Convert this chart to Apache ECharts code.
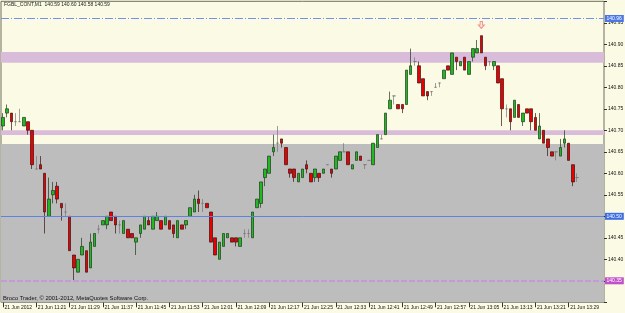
<!DOCTYPE html>
<html><head><meta charset="utf-8">
<script src="https://cdn.jsdelivr.net/npm/echarts@6.0.0/dist/echarts.min.js"></script>
<style>html,body{margin:0;padding:0;background:#fbfbe5;}#c{width:625px;height:313px;}</style>
</head><body><div id="c"></div>
<script>
// ---- data ----
const symbolName = 'FGBL_CONT,M1';
const startTime = '11:13';
const slotCount = 145; // includes chart shift slots on the right
const xTickLabels = ['21 Jun 2012','21 Jun 11:21','21 Jun 11:29','21 Jun 11:37','21 Jun 11:45','21 Jun 11:53','21 Jun 12:01','21 Jun 12:09','21 Jun 12:17','21 Jun 12:25','21 Jun 12:33','21 Jun 12:41','21 Jun 12:49','21 Jun 12:57','21 Jun 13:05','21 Jun 13:13','21 Jun 13:21','21 Jun 13:29'];
const opens = [140.71,140.74,140.74,140.72,140.72,140.71,140.72,140.70,140.61,140.62,
140.60,140.50,140.55,140.57,140.53,140.51,140.50,140.41,140.37,140.41,
140.42,140.38,140.43,140.47,140.48,140.48,140.51,140.50,140.48,140.46,
140.47,140.46,140.44,140.46,140.47,140.49,140.47,140.49,140.49,140.48,
140.49,140.48,140.45,140.48,140.48,140.50,140.51,140.54,140.53,140.53,
140.51,140.45,140.40,140.43,140.45,140.45,140.45,140.43,140.46,140.46,
140.45,140.52,140.53,140.59,140.60,140.65,140.67,140.68,140.66,140.61,
140.61,140.58,140.59,140.62,140.60,140.59,140.60,140.60,140.62,140.61,
140.61,140.63,140.65,140.65,140.61,140.63,140.64,140.62,140.63,140.62,
140.66,140.68,140.69,140.75,140.78,140.76,140.76,140.76,140.83,140.86,
140.85,140.82,140.79,140.79,140.80,140.81,140.82,140.85,140.83,140.87,
140.85,140.87,140.83,140.87,140.88,140.92,140.87,140.86,140.85,140.85,
140.82,140.75,140.75,140.73,140.76,140.72,140.75,140.75,140.73,140.68,
140.70,140.68,140.65,140.65,140.64,140.67,140.67,140.62,140.59];
const highs = [140.74,140.76,140.74,140.74,140.75,140.73,140.72,140.70,140.64,140.64,
140.60,140.59,140.58,140.58,140.53,140.53,140.50,140.41,140.40,140.45,
140.42,140.46,140.46,140.48,140.49,140.50,140.51,140.50,140.49,140.49,
140.47,140.46,140.45,140.48,140.50,140.50,140.50,140.51,140.49,140.50,
140.49,140.48,140.49,140.48,140.49,140.52,140.55,140.56,140.54,140.53,
140.51,140.45,140.44,140.46,140.46,140.45,140.45,140.45,140.47,140.47,
140.51,140.54,140.58,140.61,140.64,140.69,140.71,140.68,140.66,140.61,
140.61,140.60,140.61,140.63,140.60,140.61,140.60,140.61,140.62,140.61,
140.64,140.65,140.67,140.65,140.62,140.65,140.64,140.62,140.63,140.67,
140.69,140.69,140.74,140.79,140.78,140.76,140.76,140.84,140.89,140.87,
140.86,140.82,140.79,140.79,140.81,140.81,140.84,140.85,140.88,140.87,
140.86,140.87,140.86,140.89,140.91,140.92,140.87,140.86,140.86,140.85,
140.82,140.76,140.75,140.77,140.76,140.74,140.75,140.75,140.74,140.74,
140.70,140.68,140.65,140.65,140.68,140.70,140.67,140.62,140.60];
const lows = [140.70,140.73,140.70,140.71,140.72,140.71,140.69,140.61,140.61,140.61,
140.46,140.50,140.53,140.53,140.49,140.50,140.42,140.35,140.37,140.41,
140.37,140.38,140.43,140.46,140.48,140.47,140.49,140.46,140.46,140.46,
140.45,140.45,140.41,140.45,140.47,140.48,140.47,140.49,140.47,140.48,
140.47,140.45,140.45,140.47,140.47,140.50,140.51,140.51,140.51,140.52,
140.44,140.41,140.40,140.43,140.45,140.44,140.43,140.43,140.45,140.45,
140.45,140.52,140.52,140.57,140.60,140.64,140.65,140.66,140.62,140.59,
140.58,140.58,140.59,140.60,140.58,140.58,140.58,140.60,140.62,140.59,
140.61,140.63,140.65,140.62,140.61,140.63,140.63,140.61,140.63,140.62,
140.66,140.68,140.69,140.75,140.76,140.75,140.74,140.76,140.83,140.85,
140.81,140.78,140.77,140.78,140.80,140.80,140.82,140.84,140.83,140.84,
140.85,140.84,140.83,140.86,140.88,140.88,140.84,140.85,140.84,140.81,
140.71,140.73,140.70,140.73,140.73,140.71,140.74,140.70,140.70,140.68,
140.67,140.64,140.64,140.63,140.64,140.66,140.63,140.57,140.58];
const closes = [140.73,140.75,140.72,140.72,140.72,140.73,140.70,140.62,140.61,140.61,
140.51,140.54,140.56,140.54,140.52,140.51,140.42,140.38,140.40,140.43,
140.37,140.44,140.46,140.47,140.49,140.50,140.49,140.48,140.48,140.49,
140.45,140.45,140.45,140.48,140.50,140.48,140.50,140.50,140.47,140.50,
140.47,140.46,140.49,140.47,140.49,140.52,140.54,140.53,140.53,140.52,
140.44,140.41,140.44,140.46,140.46,140.44,140.44,140.45,140.46,140.46,
140.51,140.54,140.58,140.61,140.64,140.66,140.67,140.67,140.62,140.60,
140.59,140.60,140.61,140.61,140.58,140.61,140.59,140.61,140.62,140.60,
140.64,140.65,140.65,140.62,140.62,140.65,140.63,140.62,140.63,140.67,
140.69,140.68,140.74,140.77,140.78,140.75,140.75,140.84,140.85,140.86,
140.81,140.78,140.78,140.79,140.80,140.81,140.84,140.84,140.88,140.86,
140.86,140.84,140.86,140.89,140.89,140.88,140.85,140.86,140.86,140.81,
140.75,140.75,140.72,140.77,140.73,140.74,140.74,140.72,140.70,140.71,
140.67,140.66,140.64,140.65,140.66,140.68,140.63,140.58,140.59];
const yMin = 140.30, yMax = 141.00, yStep = 0.05;
const bands = [[140.857, 140.882], [140.689, 140.700]];
const grayZoneTop = 140.668;
const dashDotLevel = 140.96;
const solidLevel = 140.50;
const dashedLevel = 140.35;
const sellArrow = [115, 140.945];

// ---- build ----
const categories = [];
{
  const [h0, m0] = startTime.split(':').map(Number);
  for (let i = 0; i < slotCount; i++) {
    const t = h0 * 60 + m0 + i;
    categories.push(String(Math.floor(t / 60)).padStart(2, '0') + ':' + String(t % 60).padStart(2, '0'));
  }
}
const candleData = opens.map((o, i) => [o, closes[i], lows[i], highs[i]]);
const last = opens.length - 1;
const FONT = 'Liberation Sans';
const showTick = (i) => i % 8 === 0 && i / 8 < xTickLabels.length;

function boxLine(value, color, lineStyle) {
  return {
    yAxis: value,
    lineStyle: lineStyle,
    label: {
      show: true, position: 'end', distance: 1,
      formatter: () => value.toFixed(2),
      backgroundColor: color, color: '#fff', fontSize: 5, fontFamily: FONT,
      padding: [1, 2, 1, 1.5]
    }
  };
}

const chart = echarts.init(document.getElementById('c'), null, { renderer: 'canvas' });
chart.setOption({
  animation: false,
  backgroundColor: '#fbfbe5',
  textStyle: { fontFamily: FONT },
  title: [
    { text: `${symbolName}  ${opens[last].toFixed(2)} ${highs[last].toFixed(2)} ${lows[last].toFixed(2)} ${closes[last].toFixed(2)}`,
      left: 4, top: 2.5, padding: 0,
      textStyle: { fontSize: 5, fontWeight: 'normal', color: '#222', fontFamily: FONT } },
    { text: 'Broco Trader, © 2001-2012, MetaQuotes Software Corp.',
      left: 3, top: 295, padding: 0,
      textStyle: { fontSize: 5.8, fontWeight: 'normal', color: '#111', fontFamily: FONT } }
  ],
  grid: { left: 1, top: 1.3, width: 603, height: 301, show: true, backgroundColor: '#fbfbe5',
          borderColor: '#6d6d5c', borderWidth: 1, outerBoundsMode: 'none', containLabel: false },
  xAxis: {
    type: 'category', data: categories, boundaryGap: true,
    axisLine: { show: false },
    axisTick: { show: true, interval: showTick, alignWithLabel: true, length: 5, lineStyle: { color: '#333' } },
    axisLabel: { interval: showTick, formatter: (v, i) => xTickLabels[i / 8] || '', align: 'left',
                 fontSize: 5, margin: 3, color: '#111', padding: [0, 0, 0, 1.5] },
    splitLine: { show: false }
  },
  yAxis: {
    type: 'value', position: 'right', min: yMin, max: yMax, interval: yStep,
    splitLine: { show: false }, axisLine: { show: false },
    axisTick: { show: true, length: 3, lineStyle: { color: '#333' } },
    axisLabel: { fontSize: 5, color: '#111', margin: 4,
                 formatter: (v) => (v > yMax - 0.001 || v < yMin + 0.001) ? '' : v.toFixed(2) }
  },
  series: [
    { type: 'line', data: [], z: 1, silent: true,
      markArea: { silent: true, data: [
        [{ yAxis: grayZoneTop, itemStyle: { color: '#bdbdbd' } }, { yAxis: yMin }],
        ...bands.map(b => [{ yAxis: b[0], itemStyle: { color: '#d9bcd9' } }, { yAxis: b[1] }])
      ] } },
    { type: 'candlestick', data: candleData, z: 3, barWidth: 3,
      itemStyle: { color: '#22b822', color0: '#ea0000', borderColor: '#1c3a1c', borderColor0: '#3a1010',
                   borderColorDoji: '#777777', borderWidth: 0.7 } },
    { type: 'line', data: [], z: 4, silent: true,
      markLine: { silent: true, symbol: ['none', 'none'], data: [
        boxLine(dashDotLevel, '#4a76e6', { color: '#7092ea', width: 1, type: [8, 2, 1, 2] }),
        boxLine(solidLevel, '#3e6ee2', { color: '#5f82e2', width: 1, type: 'solid' }),
        boxLine(dashedLevel, '#c050cc', { color: '#c39ada', width: 2, type: [6, 2] }),
        boxLine(closes[last], '#1a1a1a', { opacity: 0, width: 0 })
      ] } },
    { type: 'scatter', z: 5, silent: true, data: [sellArrow],
      symbol: 'path://M3,0 L7,0 L7,5 L10,5 L5,10 L0,5 L3,5 Z', symbolSize: [6, 7],
      itemStyle: { color: '#fde2e2', borderColor: '#f07a7a', borderWidth: 1 } }
  ]
});
</script>
</body></html>
